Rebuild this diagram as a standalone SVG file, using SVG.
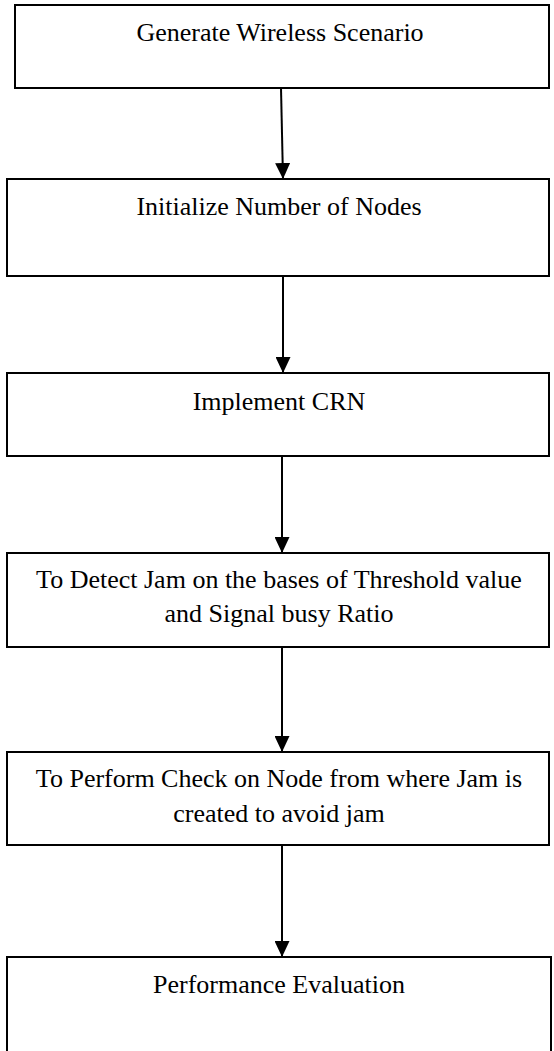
<svg xmlns="http://www.w3.org/2000/svg" width="554" height="1051" viewBox="0 0 554 1051">
<style>
.box{fill:#fff;stroke:#000;stroke-width:2}
.lbl{font-family:'Liberation Serif','Times New Roman','DejaVu Serif',serif;font-size:26px;fill:#000;text-anchor:middle}
.con{stroke:#000;stroke-width:2;fill:none}
</style>
<defs>
<marker id="ah" viewBox="0 0 16 15" refX="16" refY="7.5" markerWidth="16" markerHeight="15" markerUnits="userSpaceOnUse" orient="auto">
<path d="M0,0 L16,7.5 L0,15 Z" fill="#000"/>
</marker>
</defs>
<rect width="554" height="1051" fill="#fff"/>
<g id="connectors">
<line class="con" x1="281" y1="88" x2="283" y2="179" marker-end="url(#ah)"/>
<line class="con" x1="283" y1="276" x2="283" y2="373" marker-end="url(#ah)"/>
<line class="con" x1="282" y1="456" x2="282" y2="553" marker-end="url(#ah)"/>
<line class="con" x1="282" y1="647" x2="282" y2="752" marker-end="url(#ah)"/>
<line class="con" x1="282" y1="845" x2="282" y2="957" marker-end="url(#ah)"/>
</g>
<g id="n1">
<rect class="box" x="15" y="5" width="534" height="83"/>
<text class="lbl" font-family="Liberation Serif, serif" x="280" y="41">Generate Wireless Scenario</text>
</g>
<g id="n2">
<rect class="box" x="7" y="179" width="542" height="97"/>
<text class="lbl" font-family="Liberation Serif, serif" x="279" y="215">Initialize Number of Nodes</text>
</g>
<g id="n3">
<rect class="box" x="7" y="373" width="542" height="83"/>
<text class="lbl" font-family="Liberation Serif, serif" x="279" y="410">Implement CRN</text>
</g>
<g id="n4">
<rect class="box" x="7" y="553" width="542" height="94"/>
<text class="lbl" font-family="Liberation Serif, serif" x="279" y="588">To Detect Jam on the bases of Threshold value</text>
<text class="lbl" font-family="Liberation Serif, serif" x="279" y="622">and Signal busy Ratio</text>
</g>
<g id="n5">
<rect class="box" x="7" y="752" width="542" height="93"/>
<text class="lbl" font-family="Liberation Serif, serif" x="279" y="787">To Perform Check on Node from where Jam is</text>
<text class="lbl" font-family="Liberation Serif, serif" x="279" y="822">created to avoid jam</text>
</g>
<g id="n6">
<rect class="box" x="7" y="957" width="544" height="110"/>
<text class="lbl" font-family="Liberation Serif, serif" x="279" y="993">Performance Evaluation</text>
</g>
</svg>
